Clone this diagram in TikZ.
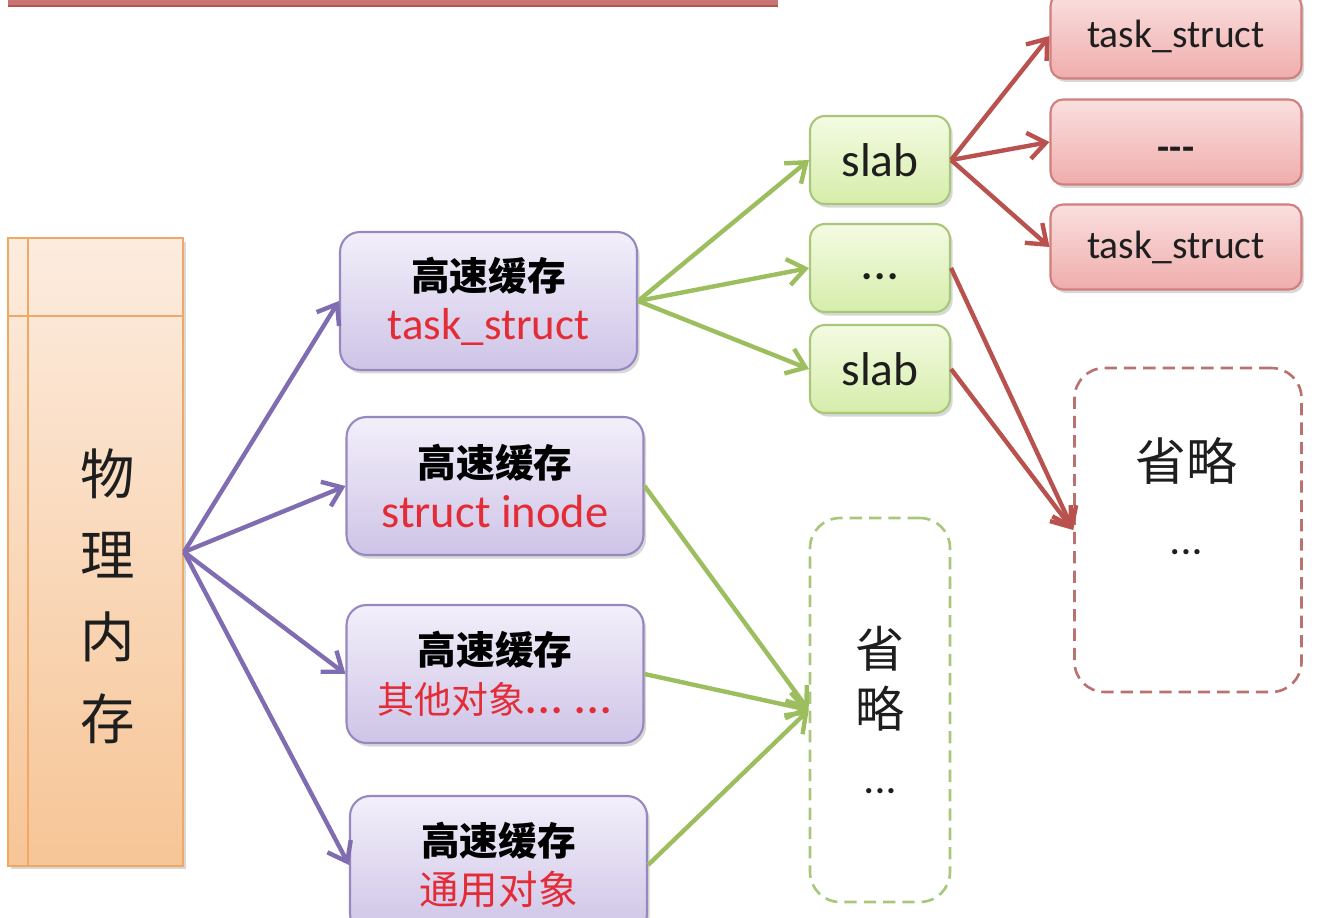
\documentclass[tikz,border=0pt]{standalone}
\usepackage{fontspec}
\setmainfont{Carlito}
\newfontfamily\cjk{Noto Sans CJK SC}
\usetikzlibrary{arrows.meta,shadows}
\definecolor{pBorder}{HTML}{9888C0}
\definecolor{pTop}{HTML}{F3EFFA}
\definecolor{pBot}{HTML}{CEC4E7}
\definecolor{pArrow}{HTML}{7F6CB1}
\definecolor{gBorder}{HTML}{A9C77A}
\definecolor{gTop}{HTML}{F4FBE2}
\definecolor{gBot}{HTML}{D6EDAB}
\definecolor{gArrow}{HTML}{9DBE5E}
\definecolor{rBorder}{HTML}{CF7F7D}
\definecolor{rTop}{HTML}{FADFDF}
\definecolor{rBot}{HTML}{EFADAC}
\definecolor{rArrow}{HTML}{B9514F}
\definecolor{oBorder}{HTML}{F0A865}
\definecolor{oTop}{HTML}{FCECDF}
\definecolor{oBot}{HTML}{F7C596}
\definecolor{txtRed}{HTML}{E32C35}
\definecolor{txtDark}{HTML}{1E1E1E}
\begin{document}
\begin{tikzpicture}[x=0.02cm,y=-0.02cm,
  shad/.style={drop shadow={shadow xshift=1.5pt,shadow yshift=-2pt,opacity=0.25,fill=black!60}},
  pbox/.style={draw=pBorder,line width=1.2pt,rounded corners=0.4cm,top color=pTop,bottom color=pBot,
    minimum width=5.94cm,minimum height=2.76cm,align=center,inner sep=0pt,shad,
    font=\fontsize{22}{28}\selectfont},
  gbox/.style={draw=gBorder,line width=1.2pt,rounded corners=0.3cm,top color=gTop,bottom color=gBot,
    minimum width=2.8cm,minimum height=1.76cm,inner sep=0pt,shad,text=txtDark,
    font=\fontsize{27}{30}\selectfont},
  rbox/.style={draw=rBorder,line width=1.2pt,rounded corners=0.25cm,top color=rTop,bottom color=rBot,
    minimum width=5.02cm,minimum height=1.7cm,inner sep=0pt,shad,text=txtDark,
    font=\fontsize{22.5}{26}\selectfont},
  dbox/.style={line width=1.5pt,dash pattern=on 7pt off 4pt,rounded corners=0.6cm,fill=white,inner sep=0pt},
  tip/.style={-{Straight Barb[length=10pt,width=15pt]}},
  parrow/.style={draw=pArrow,line width=2.5pt,tip},
  garrow/.style={draw=gArrow,line width=2.5pt,tip},
  rarrow/.style={draw=rArrow,line width=2.5pt,tip}
]
\useasboundingbox (0,0) rectangle (1338,918);
\fill[white] (0,0) rectangle (1338,918);
% top bar (bottom edge of a cut-off title box)
\fill[rArrow!80!white] (8,-6) rectangle (778,7);
\draw[rArrow,line width=1pt] (8,6) -- (778,6);

% left memory box
\node[draw=oBorder,line width=1.2pt,top color=oTop,bottom color=oBot,minimum width=3.5cm,
  minimum height=12.56cm,inner sep=0pt,shad] (mem) at (95.5,552) {};
\draw[oBorder,line width=1pt] ([xshift=0.42cm]mem.north west) -- ([xshift=0.42cm]mem.south west);
\draw[oBorder,line width=1pt] ([yshift=-1.58cm]mem.north west) -- ([yshift=-1.58cm]mem.north east);
\node[align=center,font=\cjk\fontsize{31}{46.5}\selectfont,text=txtDark] (memtxt) at (108,596)
  {物\\理\\内\\存};

% cache boxes
\node[pbox] (b1) at (488.5,301) {{\cjk\bfseries 高速缓存}\\{\color{txtRed}\fontsize{25.5}{28}\selectfont task\_struct}};
\node[pbox] (b2) at (495,486) {{\cjk\bfseries 高速缓存}\\{\color{txtRed}\fontsize{26.5}{28}\selectfont struct inode}};
\node[pbox] (b3) at (495,674) {{\cjk\bfseries 高速缓存}\\{\color{txtRed}{\cjk\fontsize{21}{28}\selectfont 其他对象}\fontsize{24}{28}\selectfont\bfseries .\kern1pt.\kern1pt.\kern7pt.\kern1pt.\kern1pt.}};
\node[pbox] (b4) at (498.5,865) {{\cjk\bfseries 高速缓存}\\{\color{txtRed}\cjk\fontsize{22.5}{28}\selectfont 通用对象}};

% slab boxes
\node[gbox] (s1) at (880,160) {slab};
\node[gbox] (sd) at (880,268) {\raisebox{-6.5pt}[0pt][0pt]{\bfseries\fontsize{24}{28}\selectfont .\kern1pt.\kern1pt.}};
\node[gbox] (s2) at (880,369) {slab};

% task_struct boxes
\node[rbox] (r1) at (1176,36) {task\_struct};
\node[rbox] (r2) at (1176,142) {\raisebox{-10.5pt}[0pt][0pt]{\bfseries -{}-{}-}};
\node[rbox] (r3) at (1176,247) {task\_struct};

% dashed boxes
\node[dbox,draw=gBorder,minimum width=2.8cm,minimum height=7.68cm,align=center,
  font=\cjk\fontsize{28}{34}\selectfont,text=txtDark] (gd) at (880,710)
  {省\\略\\[4pt]{\rmfamily\bfseries\fontsize{20}{34}\selectfont .\kern1pt.\kern1pt.}};
\node[dbox,draw=rBorder!90!black,minimum width=4.54cm,minimum height=6.48cm] (rd) at (1188,530) {};
\node[align=center,font=\cjk\fontsize{29}{42}\selectfont,text=txtDark] (rdtxt) at (1186,496)
  {省略\\{\rmfamily\bfseries\fontsize{20}{42}\selectfont .\kern1pt.\kern1pt.}};

% arrows: memory -> caches
\draw[parrow] (mem.east) -- (b1.west);
\draw[parrow] (mem.east) -- (b2.west);
\draw[parrow] (mem.east) -- (b3.west);
\draw[parrow] (mem.east) -- (b4.west);
% caches -> slabs / omitted
\draw[garrow] (b1.east) -- (s1.west);
\draw[garrow] (b1.east) -- (sd.west);
\draw[garrow] (b1.east) -- (s2.west);
\draw[garrow] (b2.east) -- (gd.west);
\draw[garrow] (b3.east) -- (gd.west);
\draw[garrow] (b4.east) -- (gd.west);
% slabs -> objects
\draw[rarrow] (s1.east) -- (r1.west);
\draw[rarrow] (s1.east) -- (r2.west);
\draw[rarrow] (s1.east) -- (r3.west);
\draw[rarrow] (sd.east) -- (rd.west);
\draw[rarrow] (s2.east) -- (rd.west);
\end{tikzpicture}
\end{document}
